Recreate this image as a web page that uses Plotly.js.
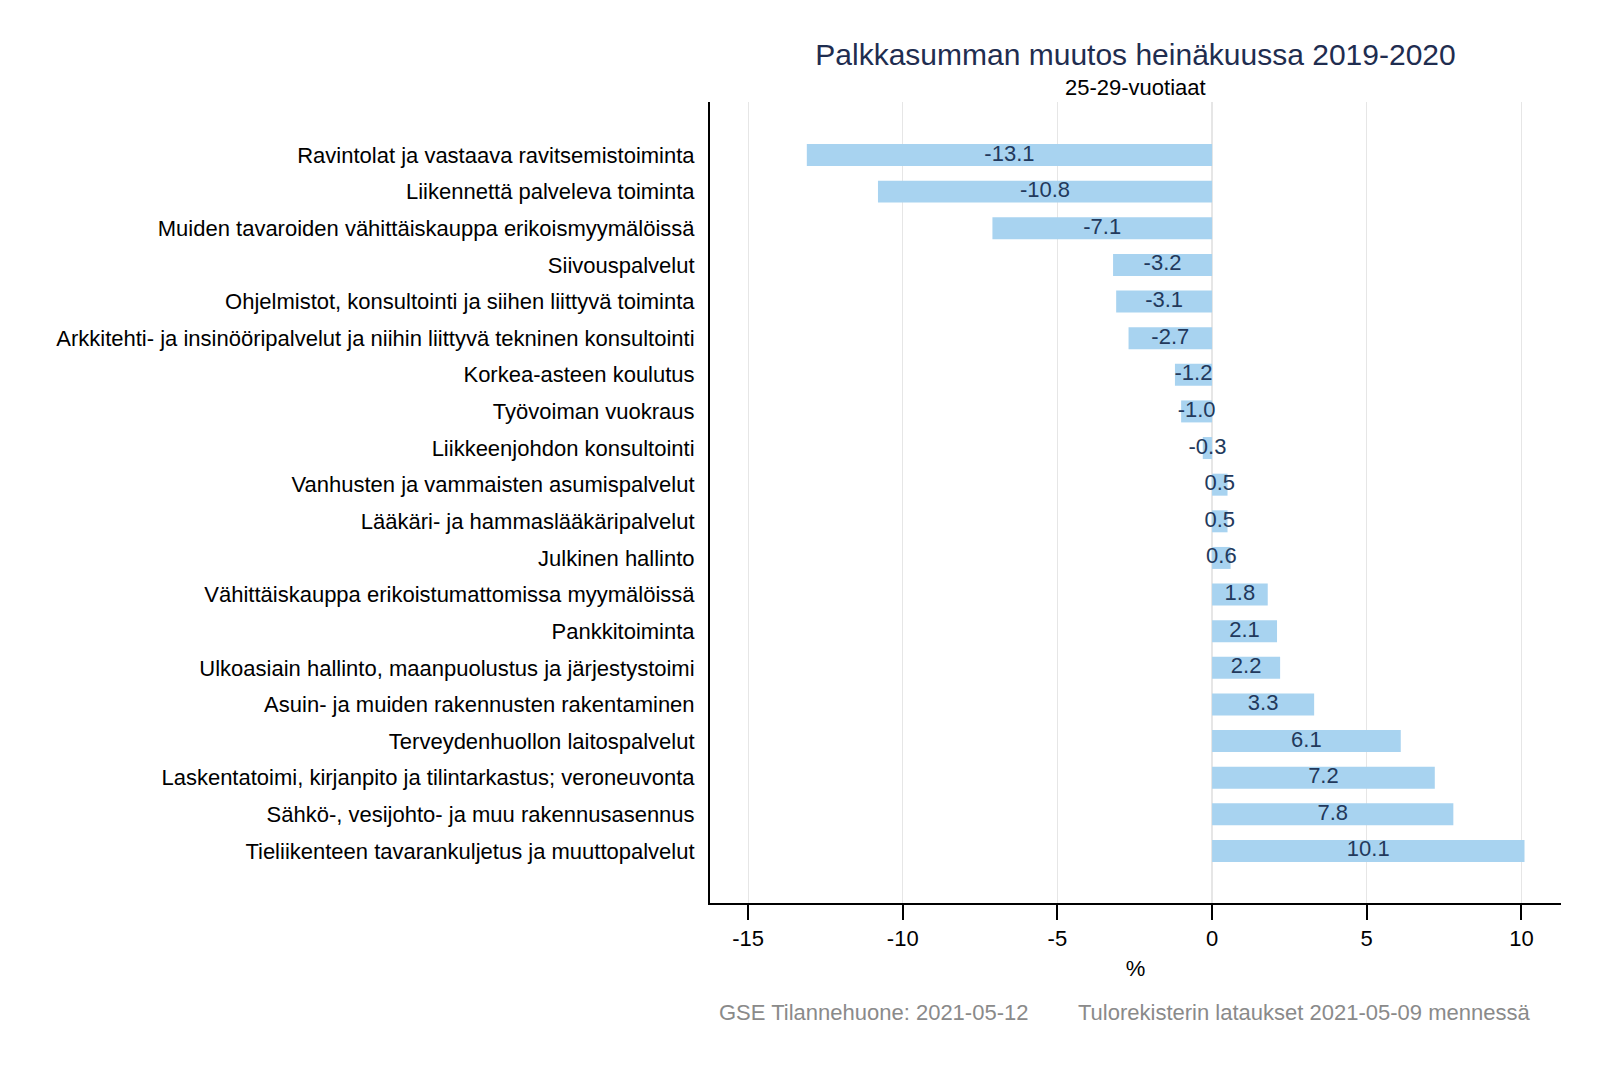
<!DOCTYPE html>
<html>
<head>
<meta charset="utf-8">
<script src="https://cdn.plot.ly/plotly-3.0.1.min.js"></script>
<style>html,body{margin:0;padding:0;background:#fff;}#chart{width:1600px;height:1067px;}</style>
</head>
<body>
<div id="chart"></div>
<script>
const categories = [
  "Ravintolat ja vastaava ravitsemistoiminta",
  "Liikennettä palveleva toiminta",
  "Muiden tavaroiden vähittäiskauppa erikoismyymälöissä",
  "Siivouspalvelut",
  "Ohjelmistot, konsultointi ja siihen liittyvä toiminta",
  "Arkkitehti- ja insinööripalvelut ja niihin liittyvä tekninen konsultointi",
  "Korkea-asteen koulutus",
  "Työvoiman vuokraus",
  "Liikkeenjohdon konsultointi",
  "Vanhusten ja vammaisten asumispalvelut",
  "Lääkäri- ja hammaslääkäripalvelut",
  "Julkinen hallinto",
  "Vähittäiskauppa erikoistumattomissa myymälöissä",
  "Pankkitoiminta",
  "Ulkoasiain hallinto, maanpuolustus ja järjestystoimi",
  "Asuin- ja muiden rakennusten rakentaminen",
  "Terveydenhuollon laitospalvelut",
  "Laskentatoimi, kirjanpito ja tilintarkastus; veroneuvonta",
  "Sähkö-, vesijohto- ja muu rakennusasennus",
  "Tieliikenteen tavarankuljetus ja muuttopalvelut"
];
const values = [-13.1, -10.8, -7.1, -3.2, -3.1, -2.7, -1.2, -1.0, -0.3, 0.5, 0.5, 0.6, 1.8, 2.1, 2.2, 3.3, 6.1, 7.2, 7.8, 10.1];
const xTicks = [-15, -10, -5, 0, 5, 10];
const titleText = "Palkkasumman muutos heinäkuussa 2019-2020";
const subtitleText = "25-29-vuotiaat";
const xTitle = "%";
const footerLeft = "GSE Tilannehuone: 2021-05-12";
const footerRight = "Tulorekisterin lataukset 2021-05-09 mennessä";

const FONT = "Liberation Sans, Arial, sans-serif";

const bars = {
  type: "bar",
  orientation: "h",
  x: values,
  y: categories,
  width: 0.6,
  marker: {color: "#a8d3f0", line: {width: 0}},
  hoverinfo: "x+y",
  showlegend: false
};
const labels = {
  type: "scatter",
  mode: "text",
  x: values.map(v => v / 2),
  y: categories,
  text: values.map(v => v.toFixed(1)),
  textposition: "middle center",
  textfont: {family: FONT, size: 22, color: "#22395c"},
  hoverinfo: "skip",
  showlegend: false,
  cliponaxis: false
};

const layout = {
  width: 1600,
  height: 1067,
  margin: {l: 710, r: 39, t: 102, b: 164},
  paper_bgcolor: "#ffffff",
  plot_bgcolor: "#ffffff",
  font: {family: FONT, size: 22, color: "#000000"},
  title: {
    text: titleText,
    font: {family: FONT, size: 30, color: "#1f2d50"},
    xref: "paper", x: 0.5, xanchor: "center",
    yref: "container", y: 1 - 54 / 1067, yanchor: "middle"
  },
  xaxis: {
    range: [-16.23, 11.28],
    tickvals: xTicks,
    ticktext: xTicks.map(String),
    showgrid: true,
    gridcolor: "#e6e6e6",
    gridwidth: 1,
    zeroline: true,
    zerolinecolor: "#e6e6e6",
    zerolinewidth: 2,
    showline: true,
    linecolor: "#000000",
    linewidth: 2,
    ticks: "outside",
    ticklen: 15,
    tickwidth: 2,
    tickcolor: "#000000",
    tickfont: {family: FONT, size: 22, color: "#000000"},
    title: {text: xTitle, font: {family: FONT, size: 22, color: "#000000"}, standoff: 10},
    fixedrange: true
  },
  yaxis: {
    type: "category",
    range: [20.42, -1.447],
    showgrid: false,
    zeroline: false,
    showline: true,
    linecolor: "#000000",
    linewidth: 2,
    ticks: "",
    ticklabelstandoff: 9,
    tickfont: {family: FONT, size: 22, color: "#000000"},
    fixedrange: true
  },
  annotations: [
    {text: subtitleText, xref: "paper", yref: "paper", x: 0.5, y: (903 - 88) / 801,
     xanchor: "center", yanchor: "middle", showarrow: false,
     font: {family: FONT, size: 22, color: "#000000"}},
    {text: footerLeft, xref: "paper", yref: "paper", x: (717 - 710) / 851, y: (903 - 1012) / 801,
     xanchor: "left", yanchor: "middle", showarrow: false,
     font: {family: FONT, size: 22, color: "#8a8a8a"}},
    {text: footerRight, xref: "paper", yref: "paper", x: (1532 - 710) / 851, y: (903 - 1012) / 801,
     xanchor: "right", yanchor: "middle", showarrow: false,
     font: {family: FONT, size: 22, color: "#8a8a8a"}}
  ]
};

Plotly.newPlot("chart", [bars, labels], layout, {displayModeBar: false, staticPlot: true});
</script>
</body>
</html>
